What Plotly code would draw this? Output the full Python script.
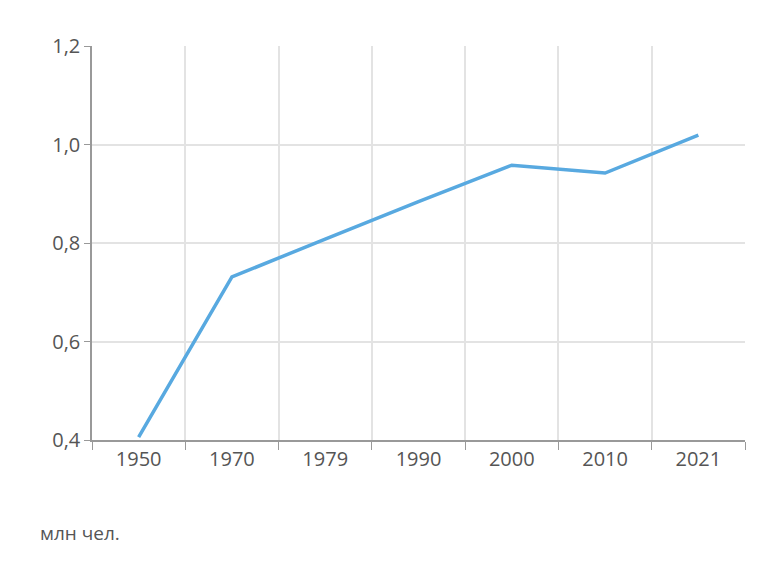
import plotly.graph_objects as go

years = ["1950", "1970", "1979", "1990", "2000", "2010", "2021"]
population = [0.406, 0.731, 0.808, 0.884, 0.958, 0.942, 1.019]
y_ticks = [0.4, 0.6, 0.8, 1.0, 1.2]
y_tick_labels = ["0,4", "0,6", "0,8", "1,0", "1,2"]

fig = go.Figure(go.Scatter(x=years, y=population, mode="lines",
                           line=dict(color="#58a9e0", width=3.5)))
fig.update_layout(
    width=784, height=580, paper_bgcolor="white", plot_bgcolor="white",
    margin=dict(l=84, r=47, t=38, b=148), showlegend=False,
    font=dict(family="Open Sans", size=20, color="#555"),
    xaxis=dict(type="category", tickson="boundaries", showgrid=True,
               gridcolor="#e3e3e3", gridwidth=1.5, showline=True,
               linecolor="#999", linewidth=1.5, ticks="outside",
               tickcolor="#999", ticklen=8, range=[-0.5, 6.5]),
    yaxis=dict(range=[0.4, 1.2], tickvals=y_ticks, ticktext=y_tick_labels,
               showgrid=True, gridcolor="#e3e3e3", gridwidth=1.5,
               showline=True, linecolor="#999", linewidth=1.5,
               ticks="outside", tickcolor="#999", ticklen=6, zeroline=False),
    annotations=[dict(text="млн чел.", xref="paper", yref="paper",
                      x=-0.083, y=-0.235, xanchor="left", yanchor="middle",
                      showarrow=False, font=dict(size=19, color="#555"))],
)
fig.write_html("out.html")
